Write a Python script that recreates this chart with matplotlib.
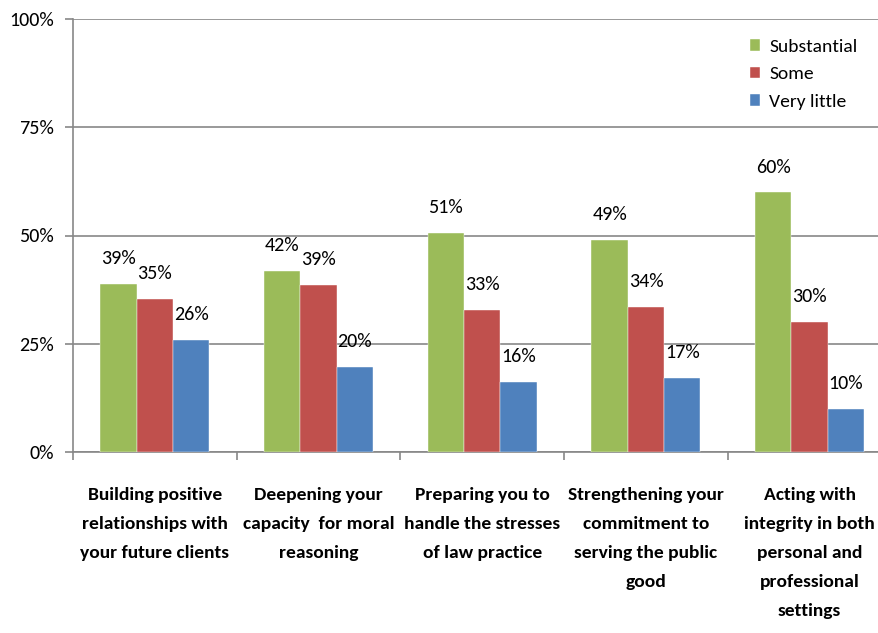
import matplotlib
matplotlib.use("Agg")
import matplotlib.pyplot as plt
import numpy as np

categories = [
    "Building positive\nrelationships with\nyour future clients",
    "Deepening your\ncapacity  for moral\nreasoning",
    "Preparing you to\nhandle the stresses\nof law practice",
    "Strengthening your\ncommitment to\nserving the public\ngood",
    "Acting with\nintegrity in both\npersonal and\nprofessional\nsettings",
]
series_names = ["Substantial", "Some", "Very little"]
substantial = [38.8, 41.8, 50.6, 49.0, 60.0]
some = [35.3, 38.6, 32.8, 33.6, 30.0]
very_little = [25.9, 19.6, 16.2, 17.1, 9.9]
yticks = [0, 25, 50, 75, 100]
ytick_labels = ["0%", "25%", "50%", "75%", "100%"]

colors = ["#9BBB59", "#C0504D", "#4F81BD"]

plt.rcParams["font.family"] = ["Carlito", "DejaVu Sans"]
FS = 14

W, H = 879, 633
fig = plt.figure(figsize=(W / 100, H / 100), dpi=100)
left, right, top, bottom = 73, 891.5, 19, 452
ax = fig.add_axes([left / W, 1 - bottom / H, (right - left) / W, (bottom - top) / H])

x = np.arange(len(categories))
bw = 0.222
data = [substantial, some, very_little]
for i, (vals, c, name) in enumerate(zip(data, colors, series_names)):
    pos = x + (i - 1) * bw
    ax.bar(pos, vals, width=bw, color=c, label=name, zorder=3,
           edgecolor="white", linewidth=0.3)
    for px, v in zip(pos, vals):
        ax.annotate(f"{round(v)}%", (px, v), xytext=(0, 12), textcoords="offset points",
                    ha="center", va="bottom", fontsize=FS + 0.5, color="black")

ax.set_xlim(-0.5, len(categories) - 0.5)
ax.set_ylim(0, 100)
ax.set_yticks(yticks)
ax.set_yticklabels(ytick_labels, fontsize=FS + 0.5)
ax.yaxis.grid(True, color="#878787", linewidth=1.2, zorder=0)
ax.set_axisbelow(True)

ax.set_xticks(x)
ax.set_xticklabels(categories, fontsize=FS, fontweight="bold", linespacing=2.0, va="top")
ax.tick_params(axis="x", length=0, pad=25)
ax.set_xticks(np.arange(-0.5, len(categories), 1.0), minor=True)
ax.tick_params(axis="x", which="minor", length=6, color="#878787", width=1.2)
ax.tick_params(axis="y", length=6, color="#878787", width=1.2, pad=8)

for s in ["top", "right"]:
    ax.spines[s].set_visible(False)
for s in ["left", "bottom"]:
    ax.spines[s].set_color("#878787")
    ax.spines[s].set_linewidth(1.2)

leg = ax.legend(loc="upper left", bbox_to_anchor=(740 / W, 1 - 29 / H), bbox_transform=fig.transFigure,
                frameon=False, fontsize=FS, handlelength=0.55, handleheight=0.55,
                handletextpad=0.45, labelspacing=0.6, borderpad=0)

fig.savefig("out.png", dpi=100)
